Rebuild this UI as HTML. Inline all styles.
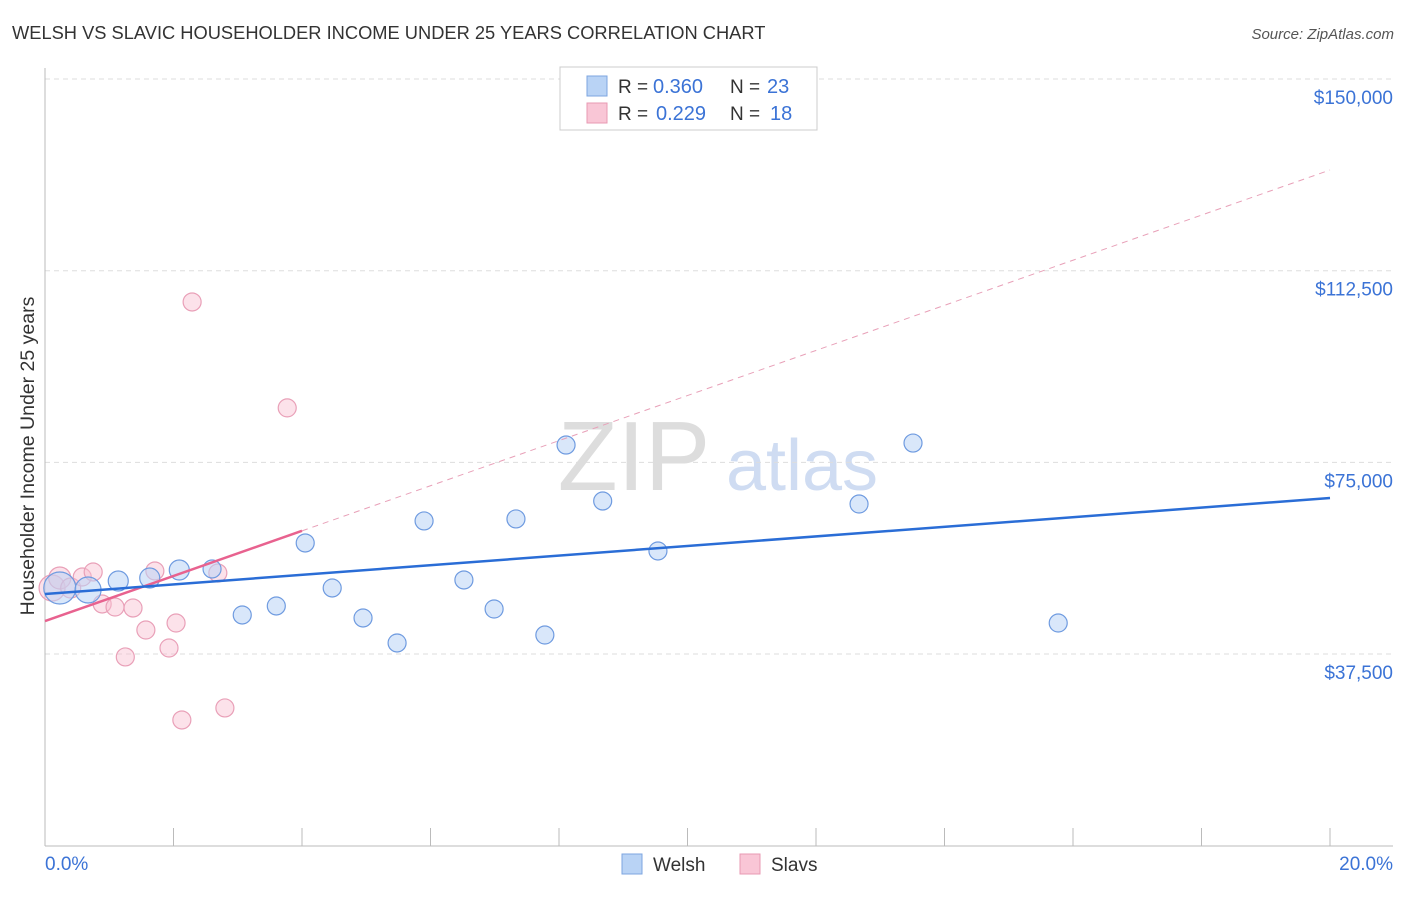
<!DOCTYPE html>
<html><head><meta charset="utf-8"><style>
body{margin:0;background:#fff;font-family:"Liberation Sans",sans-serif}
svg text{font-family:"Liberation Sans",sans-serif;white-space:pre}
</style></head><body>
<svg id="c" width="1406" height="892">
<text x="12" y="39" font-size="18.3" fill="#333">WELSH VS SLAVIC HOUSEHOLDER INCOME UNDER 25 YEARS CORRELATION CHART</text>
<text x="1394" y="39" font-size="15" fill="#555" font-style="italic" text-anchor="end">Source: ZipAtlas.com</text>
<text x="634" y="490" font-size="98" fill="#ddd" font-family="Liberation Serif" text-anchor="middle">ZIP</text>
<text x="802" y="490" font-size="72" fill="#cfdcf2" text-anchor="middle">atlas</text>
<g id="grid"></g><g id="marks"></g>
<text transform="translate(34,456) rotate(-90)" font-size="19.5" fill="#333" text-anchor="middle">Householder Income Under 25 years</text>
<text x="45" y="870" font-size="19" fill="#3b73d6">0.0%</text>
<text x="1393" y="870" font-size="19" fill="#3b73d6" text-anchor="end">20.0%</text>
<g>
<rect x="560" y="67" width="257" height="63" fill="#fff" stroke="#ccc"/>
<rect x="587" y="76" width="20" height="20" fill="#b9d3f5" stroke="#7da6e0"/>
<rect x="587" y="103" width="20" height="20" fill="#f9c6d6" stroke="#e899b3"/>
<text x="618" y="93" font-size="19" fill="#333">R = </text>
<text x="653" y="93" font-size="20" fill="#3b73d6">0.360</text>
<text x="730" y="93" font-size="19" fill="#333">N = </text>
<text x="767" y="93" font-size="20" fill="#3b73d6">23</text>
<text x="618" y="120" font-size="19" fill="#333">R = </text>
<text x="656" y="120" font-size="20" fill="#3b73d6">0.229</text>
<text x="730" y="120" font-size="19" fill="#333">N = </text>
<text x="770" y="120" font-size="20" fill="#3b73d6">18</text>
</g>
<g>
<rect x="622" y="854" width="20" height="20" fill="#b9d3f5" stroke="#7da6e0"/>
<text x="653" y="871" font-size="19" fill="#333">Welsh</text>
<rect x="740" y="854" width="20" height="20" fill="#f9c6d6" stroke="#e899b3"/>
<text x="771" y="871" font-size="19" fill="#333">Slavs</text>
</g>
</svg>
<script>
const yTicks=[37500,75000,112500,150000];
const yTickLabels=["$37,500","$75,000","$112,500","$150,000"];
const xTicks=[0,2,4,6,8,10,12,14,16,18,20];
const welshX=[0.23,0.67,1.14,1.63,2.09,2.60,3.07,3.60,4.05,4.47,4.95,5.48,5.90,6.52,6.99,7.33,7.78,8.11,8.68,9.54,12.67,13.51,15.77];
const welshY=[50420,50030,51790,52380,53940,54140,45140,46900,59230,50420,44550,39660,63540,51990,46310,63930,41220,78390,67440,57660,66850,78780,43570];
const welshR=[16,13,10,10,10,9,9,9,9,9,9,9,9,9,9,9,9,9,9,9,9,9,9];
const slavX=[0.11,0.23,0.40,0.58,0.75,0.89,1.09,1.37,1.57,1.71,1.93,2.04,2.13,2.29,2.69,2.80,3.77,1.25];
const slavY=[50420,52380,50420,52570,53550,47290,46700,46510,42200,53750,38680,43570,24600,106380,53360,26950,85660,36930];
const slavR=[13,11,10,9,9,9,9,9,9,9,9,9,9,9,9,9,9,9];
const welshTrend=[49240,68030];
const slavTrend=[43950,132200];
const slavSolidEnd=4.0;
const X=p=>45+p*64.25, Y=v=>845.7-v/195.65;
const NS="http://www.w3.org/2000/svg";
function mk(t,a,parent){const e=document.createElementNS(NS,t);for(const k in a)e.setAttribute(k,a[k]);document.getElementById(parent).appendChild(e);return e;}
yTicks.forEach((v,i)=>{
 const l=mk('line',{x1:45,x2:1393,y1:Y(v),y2:Y(v),stroke:'#ddd','stroke-dasharray':'5,4'},'grid');
 
 
 const t=mk('text',{x:1393,y:Y(v)+25,'font-size':19,fill:'#3b73d6','text-anchor':'end'},'grid');
 t.textContent=yTickLabels[i];
 
 
});
const ax=mk('line',{x1:45,x2:45,y1:68,y2:846,stroke:'#bbb'},'grid');


const bx=mk('line',{x1:45,x2:1393,y1:846,y2:846,stroke:'#bbb'},'grid');


xTicks.forEach(p=>{const t=mk('line',{x1:X(p),x2:X(p),y1:828,y2:846,stroke:'#bbb'},'grid');
 
 });
function pts(xs,ys,rs,fill,stroke,name){xs.forEach((x,i)=>{const c=mk('circle',{cx:X(x),cy:Y(ys[i]),r:rs[i],fill:fill,stroke:stroke,'stroke-width':1.2},'marks');
 
 });}
pts(slavX,slavY,slavR,'rgba(249,190,208,0.45)','#e9a0b8','slavs-point');
pts(welshX,welshY,welshR,'rgba(185,211,245,0.55)','#6f9be0','welsh-point');
const sl=v=>slavTrend[0]+(slavTrend[1]-slavTrend[0])*v/20;
let d=mk('line',{x1:X(slavSolidEnd),y1:Y(sl(slavSolidEnd)),x2:X(20),y2:Y(sl(20)),stroke:'#e8a0b8','stroke-dasharray':'6,5','stroke-width':1},'marks');


d=mk('line',{x1:X(0),y1:Y(sl(0)),x2:X(slavSolidEnd),y2:Y(sl(slavSolidEnd)),stroke:'#e8628f','stroke-width':2.5},'marks');


d=mk('line',{x1:X(0),y1:Y(welshTrend[0]),x2:X(20),y2:Y(welshTrend[1]),stroke:'#2a6dd6','stroke-width':2.5},'marks');


</script>
</body></html>
